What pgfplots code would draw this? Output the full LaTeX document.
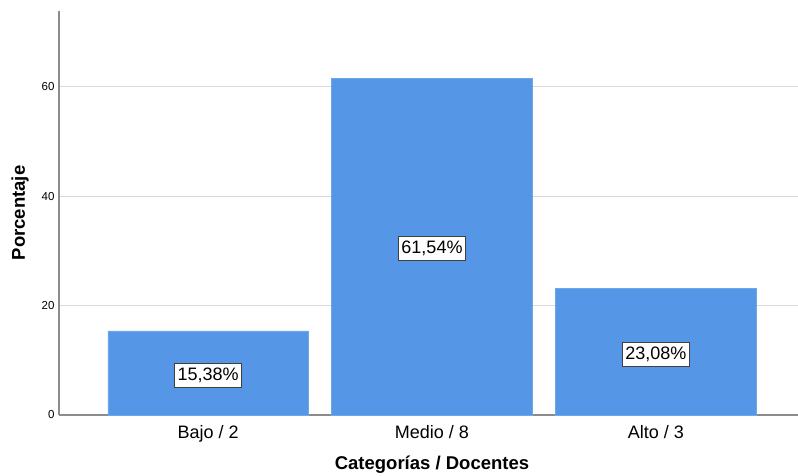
\documentclass[border=0pt]{standalone}
\usepackage{pgfplots}
\pgfplotsset{compat=1.18}
\usepackage{fontspec}
\setmainfont{Liberation Sans}
\definecolor{barblue}{HTML}{5596E6}
\definecolor{gridgray}{HTML}{D9D9D9}
\definecolor{axgray}{HTML}{8C8C8C}
\begin{document}
\begin{tikzpicture}
\begin{axis}[
  name=ax,
  scale only axis,
  width=746pt, height=404pt,
  xmin=-0.6667, xmax=2.6667,
  ymin=0, ymax=73.85,
  axis x line=bottom, axis y line=left,
  axis line style={axgray, line width=1.3pt, -},
  xtick={0,1,2},
  xticklabels={Bajo / 2, Medio / 8, Alto / 3},
  ytick={0,20,40,60},
  major tick length=0pt,
  ymajorgrids,
  grid style={gridgray, line width=1.3pt},
  /pgf/number format/assume math mode=true,
  xticklabel style={font=\fontsize{18}{20}\selectfont, yshift=-7pt},
  yticklabel style={font=\fontsize{11.5}{12}\selectfont, xshift=-1pt},
  xlabel={\textbf{Categorías / Docentes}},
  ylabel={\textbf{Porcentaje}},
  every axis x label/.style={at={(rel axis cs:0.5,0)}, anchor=center, yshift=-50pt, font=\fontsize{18.5}{20}\selectfont},
  every axis y label/.style={at={(rel axis cs:0,0.5)}, anchor=center, rotate=90, yshift=39pt, font=\fontsize{18.5}{20}\selectfont},
  clip=false,
]
\addplot[ybar, bar width=0.897, fill=barblue, draw=barblue!85!white, line width=0.6pt] coordinates {(0,15.38) (1,61.54) (2,23.08)};
\addplot[draw=none, mark=none, nodes near coords, point meta=explicit symbolic,
  every node near coord/.style={anchor=center, yshift=-2pt, fill=white, draw=black!75, line width=0.6pt, inner xsep=3pt, inner ysep=4.5pt, font=\fontsize{18}{20}\selectfont}]
  coordinates {(0,7.69) [{15,38\%}] (1,30.77) [{61,54\%}] (2,11.54) [{23,08\%}]};
\end{axis}
\pgfresetboundingbox
\useasboundingbox ([shift={(-59pt,-60pt)}]ax.south west) rectangle ([shift={(739pt,415pt)}]ax.south west);
\end{tikzpicture}
\end{document}
